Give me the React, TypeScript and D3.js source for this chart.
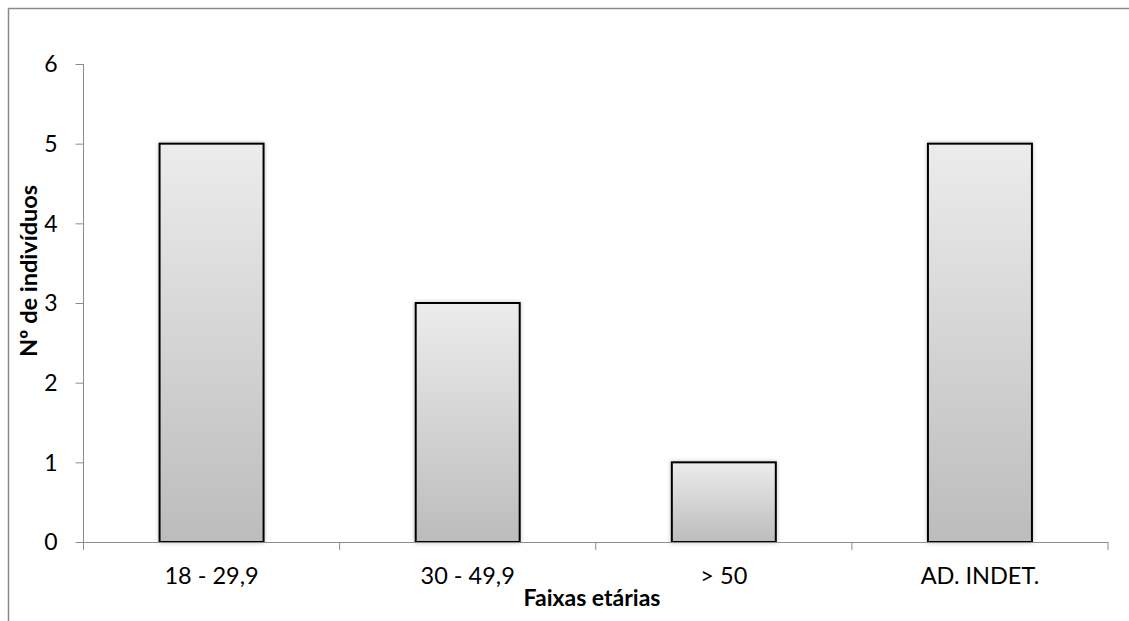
import React from "react";
import * as d3 from "d3";

const categories = ["18 - 29,9", "30 - 49,9", "> 50", "AD. INDET."];
const values = [5, 3, 1, 5];
const yTicks = [0, 1, 2, 3, 4, 5, 6];
const xTitle = "Faixas etárias";
const yTitle = "Nº de indivíduos";

export default function App() {
  const W = 1129, H = 621;
  const left = 83.5, right = 1108, top = 64, bottom = 542;
  const x = d3.scaleBand<string>().domain(categories).range([left, right]).paddingInner(0.594).paddingOuter(0.297);
  const y = d3.scaleLinear().domain([0, 6]).range([bottom, top]);
  const font = "Lato, 'Open Sans', sans-serif";
  const bandStep = (right - left) / categories.length;
  return (
    <svg width={W} height={H} style={{ position: "absolute", left: 0, top: 0 }}>
      <defs>
        <linearGradient id="barGrad" x1="0" y1="0" x2="0" y2="1">
          <stop offset="0" stopColor="#ececec" />
          <stop offset="1" stopColor="#bcbcbc" />
        </linearGradient>
        <filter id="shadow" x="-10%" y="-10%" width="120%" height="120%">
          <feGaussianBlur in="SourceAlpha" stdDeviation="2" />
          <feComponentTransfer><feFuncA type="linear" slope="0.25" /></feComponentTransfer>
          <feMerge><feMergeNode /><feMergeNode in="SourceGraphic" /></feMerge>
        </filter>
      </defs>
      <rect x={0} y={0} width={W} height={H} fill="#fff" />
      <rect x={8.5} y={8.5} width={W + 20} height={H + 20} fill="none" stroke="#8a8a8a" strokeWidth={1.5} />
      <line x1={left} x2={left} y1={top} y2={bottom} stroke="#8c8c8c" strokeWidth={1} />
      {yTicks.map((t) => (
        <g key={t}>
          <line x1={left - 8} x2={left} y1={y(t) + 0.5} y2={y(t) + 0.5} stroke="#8c8c8c" />
          <text x={51} y={y(t)} dy="0.36em" textAnchor="middle" fontFamily={font} fontSize={23} fill="#000">{t}</text>
        </g>
      ))}
      {categories.map((c, i) => (
        <rect key={c} x={x(c)!} y={y(values[i])} width={x.bandwidth()} height={y(0) - y(values[i])}
          fill="url(#barGrad)" stroke="#000" strokeWidth={2} filter="url(#shadow)" />
      ))}
      <line x1={left} x2={right} y1={bottom + 0.5} y2={bottom + 0.5} stroke="#8c8c8c" />
      {d3.range(categories.length + 1).map((i) => (
        <line key={i} x1={left + i * bandStep} x2={left + i * bandStep} y1={bottom} y2={bottom + 8} stroke="#8c8c8c" />
      ))}
      {categories.map((c) => (
        <text key={c} x={x(c)! + x.bandwidth() / 2} y={584} textAnchor="middle" fontFamily={font} fontSize={23.5} fill="#000">{c}</text>
      ))}
      <text x={592} y={606} textAnchor="middle" fontFamily={font} fontSize={23} fontWeight="bold" fill="#000">{xTitle}</text>
      <text transform={`translate(37, 271) rotate(-90)`} textAnchor="middle" fontFamily={font} fontSize={23.5} fontWeight="bold" fill="#000">{yTitle}</text>
    </svg>
  );
}
